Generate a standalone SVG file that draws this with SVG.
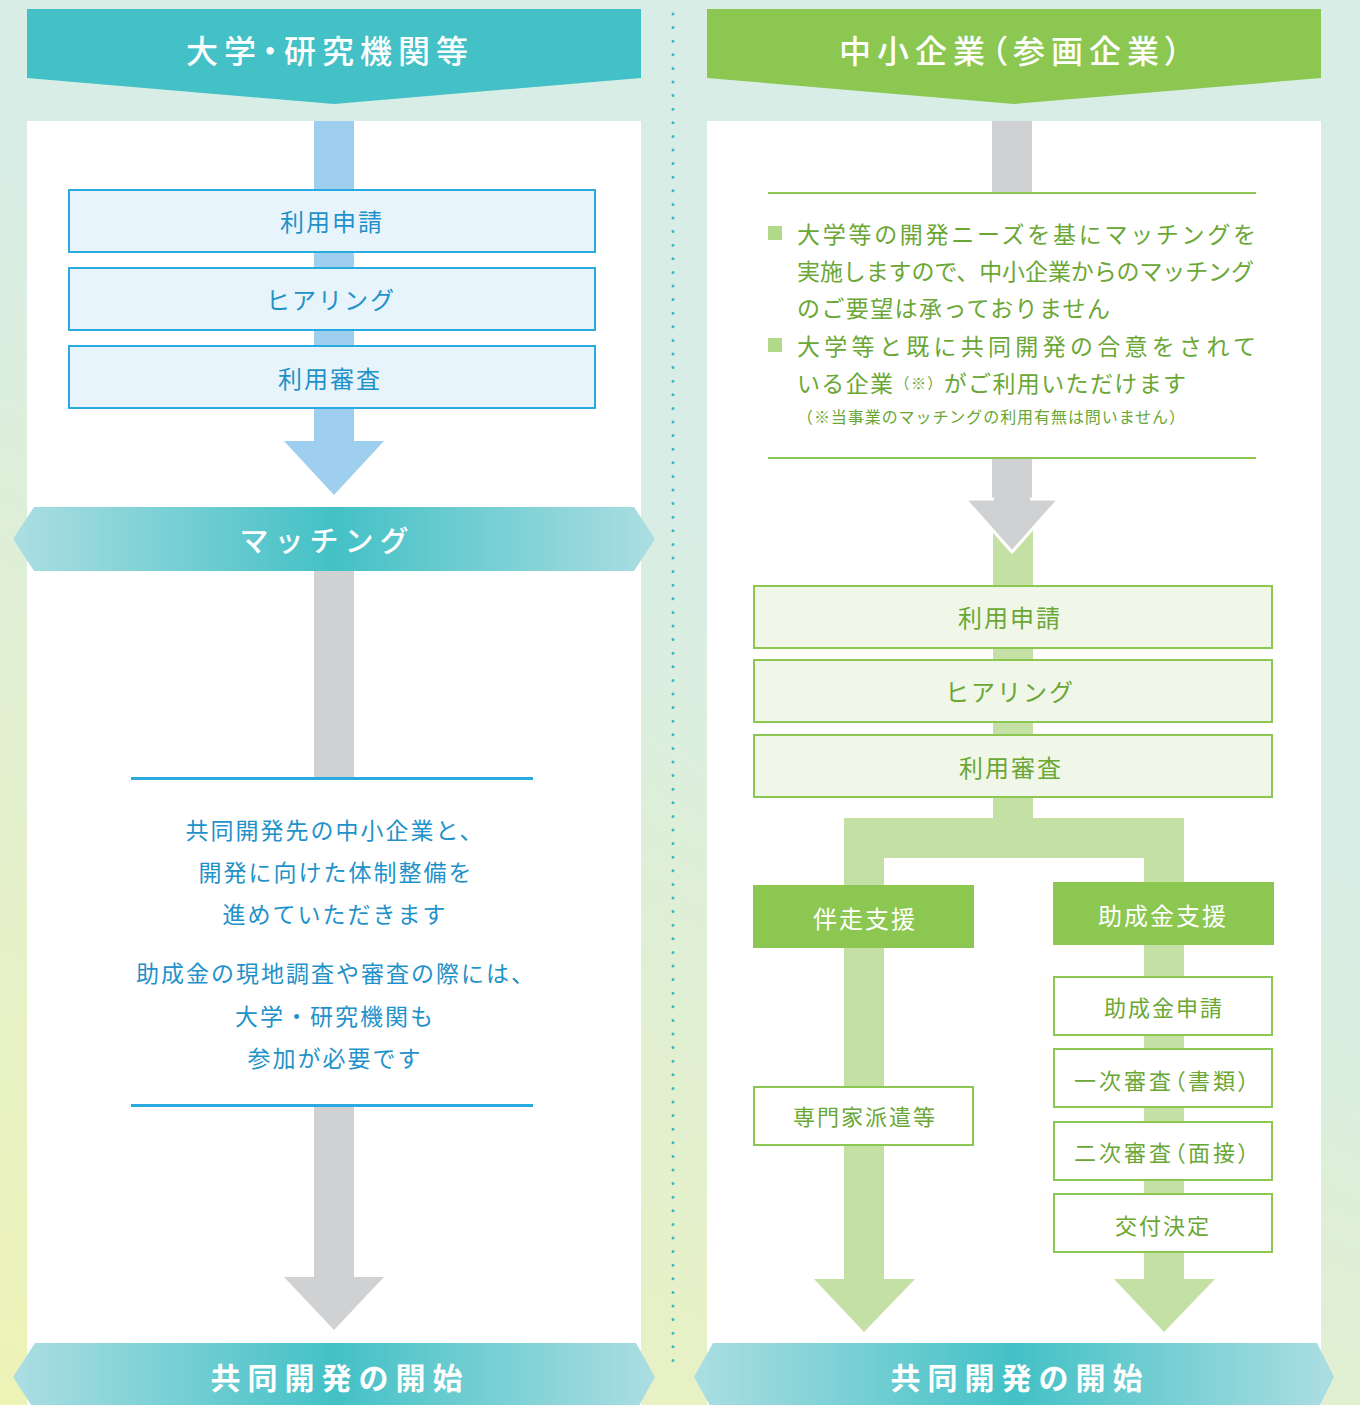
<svg xmlns="http://www.w3.org/2000/svg" width="1360" height="1405" viewBox="0 0 1360 1405">
<defs>
<linearGradient id="bg" gradientUnits="userSpaceOnUse" x1="0" y1="1405" x2="520" y2="420">
<stop offset="0" stop-color="#eef3b6"/>
<stop offset="1" stop-color="#d8ede6"/>
</linearGradient>
<linearGradient id="band" x1="0" y1="0" x2="1" y2="0">
<stop offset="0" stop-color="#acdee2"/>
<stop offset="0.5" stop-color="#43c1c6"/>
<stop offset="1" stop-color="#acdee2"/>
</linearGradient>
<style>
.jp{font-family:"Noto Sans CJK JP","Noto Sans CJK SC",sans-serif;}
.hd{fill:#fff;font-size:32px;font-weight:500;letter-spacing:6px;text-anchor:middle;dominant-baseline:central;font-feature-settings:"palt";}
.bn{fill:#fff;font-size:30px;font-weight:700;letter-spacing:7px;text-anchor:middle;dominant-baseline:central;}
.bbox{fill:#e8f4fb;stroke:#29abe2;stroke-width:2;}
.gbox{fill:#f0f6e8;stroke:#8bc751;stroke-width:2;}
.wbox{fill:#fff;stroke:#8bc751;stroke-width:2;}
.sbox{fill:#8bc751;}
.bt{fill:#1f92c9;font-size:24px;letter-spacing:2px;text-anchor:middle;dominant-baseline:central;}
.gt{fill:#6aa735;font-size:24px;letter-spacing:2px;text-anchor:middle;dominant-baseline:central;}
.gs{fill:#6aa735;font-size:22px;letter-spacing:2px;text-anchor:middle;dominant-baseline:central;}
.gp{font-feature-settings:"palt";letter-spacing:3px;}
.wt{fill:#fff;font-size:24px;letter-spacing:2px;text-anchor:middle;dominant-baseline:central;}
.body{fill:#1f92c9;font-size:23px;letter-spacing:2px;text-anchor:middle;dominant-baseline:central;}
.bl{fill:#6aa735;font-size:23px;dominant-baseline:central;}
.note{fill:#6aa735;font-size:16px;dominant-baseline:central;}
.blue{fill:#9fcfee;}
.gray{fill:#d0d1d3;}
.lg{fill:#c5e0a5;}
</style>
</defs>

<rect x="0" y="0" width="1360" height="1405" fill="url(#bg)"/>
<line x1="673" y1="14" x2="673" y2="1364" stroke="#3ab9c0" stroke-width="3" stroke-linecap="round" stroke-dasharray="0 13.6"/>

<!-- panels -->
<rect x="27" y="121" width="614" height="1290" fill="#fff"/>
<rect x="707" y="121" width="614" height="1290" fill="#fff"/>

<!-- connectors -->
<g id="connectors">
<rect class="blue" x="314" y="121" width="40" height="321"/>
<polygon class="blue" points="284,441 384,441 334,495"/>
<rect class="gray" x="314" y="571" width="40" height="207"/>
<rect class="gray" x="314" y="1105" width="40" height="173"/>
<polygon class="gray" points="284,1277 384,1277 334,1330"/>

<rect class="gray" x="992" y="121" width="40" height="72"/>
<rect class="lg" x="993" y="520" width="40" height="300"/>
<rect class="gray" x="992" y="458" width="40" height="42"/>
<polygon class="gray" points="965,499 1059,499 1012,552" stroke="#fff" stroke-width="3"/>
<rect class="gray" x="994" y="458" width="36" height="44"/>
<path class="lg" d="M844,818 H1184 V1280 H1144 V858 H884 V1280 H844 Z"/>
<polygon class="lg" points="814,1279 915,1279 864,1332"/>
<polygon class="lg" points="1114,1279 1215,1279 1164,1332"/>
</g>

<!-- headers -->
<g id="hdr-left">
<polygon points="27,9 641,9 641,78 334,104 27,78" fill="#43c1c6"/>
<text class="jp hd" x="330" y="49">大学・研究機関等</text>
</g>
<g id="hdr-right">
<polygon points="707,9 1321,9 1321,78 1014,104 707,78" fill="#8bc751"/>
<text class="jp hd" x="1013" y="49">中小企業（参画企業）</text>
</g>

<!-- left boxes -->
<g id="l-apply"><rect class="bbox" x="69" y="190" width="526" height="62"/><text class="jp bt" x="332" y="220">利用申請</text></g>
<g id="l-hearing"><rect class="bbox" x="69" y="268" width="526" height="62"/><text class="jp bt" x="331" y="298">ヒアリング</text></g>
<g id="l-review"><rect class="bbox" x="69" y="346" width="526" height="62"/><text class="jp bt" x="330" y="377">利用審査</text></g>

<g id="matching">
<polygon points="34,507 634,507 655,539 634,571 34,571 13,539" fill="url(#band)"/>
<text class="jp bn" x="327" y="539" style="font-weight:500;font-size:29px;letter-spacing:6px">マッチング</text>
</g>

<g id="l-text">
<rect x="131" y="777" width="402" height="3" fill="#29abe2"/>
<text class="jp body" x="335" y="829">共同開発先の中小企業と、</text>
<text class="jp body" x="336" y="871">開発に向けた体制整備を</text>
<text class="jp body" x="335" y="913">進めていただきます</text>
<text class="jp body" x="336" y="972">助成金の現地調査や審査の際には、</text>
<text class="jp body" x="335" y="1015">大学・研究機関も</text>
<text class="jp body" x="335" y="1057">参加が必要です</text>
<rect x="131" y="1104" width="402" height="3" fill="#29abe2"/>
</g>

<g id="start-left">
<polygon points="35,1343 636,1343 655,1377 636,1411 35,1411 13,1377" fill="url(#band)"/>
<text class="jp bn" x="340" y="1376">共同開発の開始</text>
</g>

<!-- right notes -->
<g id="r-notes">
<rect x="768" y="192" width="488" height="2" fill="#8bc751"/>
<rect x="768" y="226" width="14" height="14" fill="#b0d98a"/>
<rect x="768" y="338" width="14" height="14" fill="#b0d98a"/>
<text class="jp bl" x="797" y="233" textLength="459" lengthAdjust="spacing">大学等の開発ニーズを基にマッチングを</text>
<text class="jp bl" x="797" y="270" textLength="457" lengthAdjust="spacing">実施しますので、中小企業からのマッチング</text>
<text class="jp bl" x="797" y="307" textLength="313" lengthAdjust="spacing">のご要望は承っておりません</text>
<text class="jp bl" x="797" y="345" textLength="459" lengthAdjust="spacing">大学等と既に共同開発の合意をされて</text>
<text class="jp bl" x="797" y="382" textLength="389" lengthAdjust="spacing">いる企業<tspan font-size="15">（※）</tspan>がご利用いただけます</text>
<text class="jp note" x="797" y="416" textLength="388" lengthAdjust="spacing">（※当事業のマッチングの利用有無は問いません）</text>
<rect x="768" y="457" width="488" height="2" fill="#8bc751"/>
</g>

<g id="r-apply"><rect class="gbox" x="754" y="586" width="518" height="62"/><text class="jp gt" x="1010" y="616">利用申請</text></g>
<g id="r-hearing"><rect class="gbox" x="754" y="660" width="518" height="62"/><text class="jp gt" x="1010" y="690">ヒアリング</text></g>
<g id="r-review"><rect class="gbox" x="754" y="735" width="518" height="62"/><text class="jp gt" x="1011" y="766">利用審査</text></g>

<g id="r-accomp"><rect class="sbox" x="753" y="885" width="221" height="63"/><text class="jp wt" x="865" y="917">伴走支援</text></g>
<g id="r-grant"><rect class="sbox" x="1053" y="882" width="221" height="63"/><text class="jp wt" x="1163" y="914">助成金支援</text></g>

<g id="r-expert"><rect class="wbox" x="754" y="1087" width="219" height="58"/><text class="jp gs" x="865" y="1115">専門家派遣等</text></g>
<g id="r-g1"><rect class="wbox" x="1054" y="977" width="218" height="58"/><text class="jp gs" x="1164" y="1006">助成金申請</text></g>
<g id="r-g2"><rect class="wbox" x="1054" y="1049" width="218" height="58"/><text class="jp gs gp" x="1163" y="1079">一次審査（書類）</text></g>
<g id="r-g3"><rect class="wbox" x="1054" y="1122" width="218" height="58"/><text class="jp gs gp" x="1163" y="1151">二次審査（面接）</text></g>
<g id="r-g4"><rect class="wbox" x="1054" y="1194" width="218" height="58"/><text class="jp gs" x="1163" y="1224">交付決定</text></g>

<g id="start-right">
<polygon points="713,1343 1317,1343 1334,1377 1317,1411 713,1411 694,1377" fill="url(#band)"/>
<text class="jp bn" x="1020" y="1376">共同開発の開始</text>
</g>
</svg>
